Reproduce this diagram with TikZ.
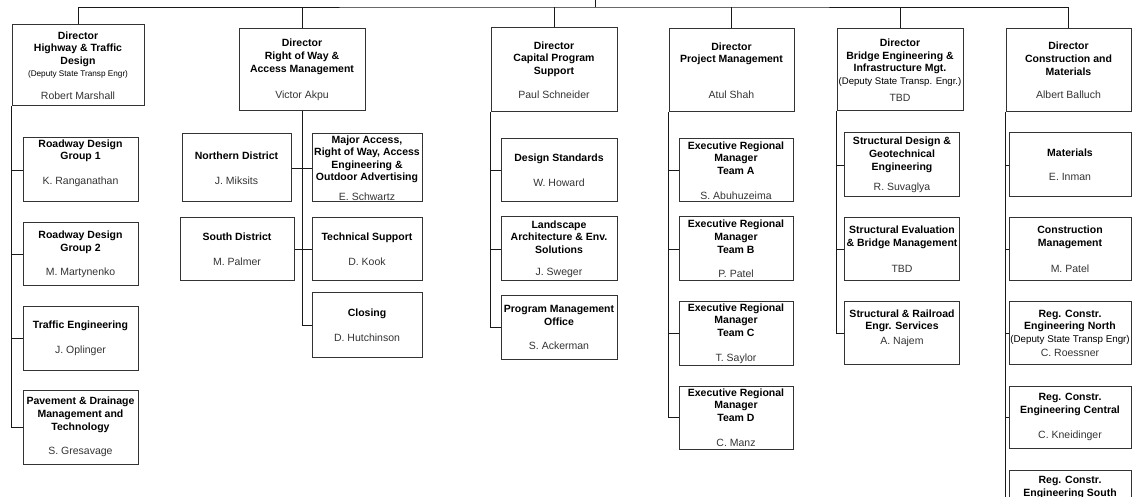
\documentclass[tikz,border=0pt]{standalone}
\usepackage{fontspec}
\setmainfont{Liberation Sans}
\usepackage{tikz}
\usetikzlibrary{calc}
\definecolor{namegray}{gray}{0.2}
\def\who#1{{\mdseries\color{namegray}#1}}
\def\dep#1#2{{\mdseries\fontsize{#1}{10}\selectfont #2}}

\begin{document}
\begin{tikzpicture}[x=1pt, y=-1pt,
    unit/.style 2 args={draw=black!80, line width=1pt, inner sep=0pt, align=center,
        minimum width=#1pt, minimum height=#2pt, font=\fontsize{10.5}{12.6}\selectfont\bfseries},
    link/.style={line width=0.8pt, color=black!90}]
			%%%%% START %%%%%
			\useasboundingbox (0,0) rectangle (1144,497);
			
			\node[unit={132}{81}] (hwy) at (78,65.5) {Director\\Highway \& Traffic\\Design\\\dep{8.2}{(Deputy State Transp Engr)}\\[10pt]\who{Robert Marshall}};
			\node[unit={126}{82}] (row) at (302,70) {Director\\Right of Way \&\\Access Management\\[14pt]\who{Victor Akpu}};
			\node[unit={126}{84}] (cps) at (554,70) {Director\\Capital Program\\Support\\[11pt]\who{Paul Schneider}};
			\node[unit={125}{83}] (pm) at (731.5,70.5) {Director\\Project Management\\[23pt]\who{Atul Shah}};
			\node[unit={126}{82}] (bim) at (900,70) {Director\\Bridge Engineering \&\\Infrastructure Mgt.\\\dep{9.6}{(Deputy State Transp. Engr.)}\\[4pt]\who{TBD}};
			\node[unit={125}{83}] (ccm) at (1068.5,70.5) {Director\\Construction and\\Materials\\[11pt]\who{Albert Balluch}};
			
			\node[unit={115}{64}] (rdg1) at (80.5,170) {Roadway Design\\Group 1\\[12pt]\who{K. Ranganathan}\\\strut};
			\node[unit={115}{63}] (rdg2) at (80.5,254.5) {Roadway Design\\Group 2\\[12pt]\who{M. Martynenko}};
			\node[unit={115}{63}] (tre) at (80.5,338.5) {Traffic Engineering\\[12pt]\who{J. Oplinger}};
			\node[unit={115}{74}] (pav) at (80.5,427) {Pavement \& Drainage\\Management and\\Technology\\[12pt]\who{S. Gresavage}};
			
			\node[unit={109}{68}] (nd) at (236.5,168) {Northern District\\[12pt]\who{J. Miksits}};
			\node[unit={114}{63}] (sd) at (237,249.5) {South District\\[12pt]\who{M. Palmer}};
			\node[unit={110}{68}] (maj) at (367,168) {Major Access,\\Right of Way, Access\\Engineering \&\\Outdoor Advertising\\[7pt]\who{E. Schwartz}};
			\node[unit={110}{63}] (tec) at (367,249.5) {Technical Support\\[12pt]\who{D. Kook}};
			\node[unit={110}{64}] (clo) at (367,325) {Closing\\[12pt]\who{D. Hutchinson}};
			
			\node[unit={116}{63}] (ds) at (559,170.5) {Design Standards\\[12pt]\who{W. Howard}};
			\node[unit={116}{64}] (la) at (559,249) {Landscape\\Architecture \& Env.\\Solutions\\[9pt]\who{J. Sweger}};
			\node[unit={116}{63}] (pmo) at (559,327.5) {Program Management\\Office\\[12pt]\who{S. Ackerman}};
			
			\node[unit={114}{63}] (ta) at (736,170.5) {Executive Regional\\Manager\\Team A\\[12pt]\who{S. Abuhuzeima}};
			\node[unit={114}{64}] (tb) at (736,249) {Executive Regional\\Manager\\Team B\\[12pt]\who{P. Patel}};
			\node[unit={114}{63}] (tc) at (736,333.5) {Executive Regional\\Manager\\Team C\\[12pt]\who{T. Saylor}};
			\node[unit={114}{63}] (td) at (736,417.5) {Executive Regional\\Manager\\Team D\\[12pt]\who{C. Manz}};
			
			\node[unit={115}{64}] (sdg) at (902,165) {Structural Design \&\\Geotechnical\\Engineering\\[8pt]\who{R. Suvaglya}};
			\node[unit={115}{63}] (seb) at (902,249.5) {Structural Evaluation\\\& Bridge Management\\[14pt]\who{TBD}};
			\node[unit={115}{62}] (srr) at (902,333) {Structural \& Railroad\\Engr. Services\\[2pt]\who{A. Najem}\\[-4pt]\strut};
			
			\node[unit={122}{64}] (mat) at (1070,165) {Materials\\[11pt]\who{E. Inman}};
			\node[unit={122}{63}] (con) at (1070,249.5) {Construction\\Management\\[14pt]\who{M. Patel}};
			\node[unit={122}{62}] (rn) at (1070,333) {Reg. Constr.\\Engineering North\\\dep{9.8}{(Deputy State Transp Engr)}\\[1pt]\who{C. Roessner}};
			\node[unit={122}{62}] (rc) at (1070,417) {Reg. Constr.\\Engineering Central\\[13pt]\who{C. Kneidinger}};
			\node[unit={122}{62}] (rs) at (1070,501) {Reg. Constr.\\Engineering South\\[13pt]\strut};
			
			\coordinate (up) at (595,0);
			\coordinate (bus) at (595,7);
			\draw[link] (up) -- (bus);
			\draw[link] (hwy.north) |- (bus) -| (ccm.north);
			\foreach \boss in {row,cps,pm,bim}
				\draw[link] (\boss.north) -- (\boss.north |- bus);
			
			\foreach \kid in {rdg1,rdg2,tre,pav}
				\draw[link] (hwy.south west) |- (\kid.west);
			\draw[link] (row.south) |- (clo.west);
			\draw[link] (nd.east) -- (maj.west);
			\draw[link] (sd.east) -- (tec.west);
			\foreach \kid in {ds,la,pmo}
				\draw[link] (cps.south west) |- (\kid.west);
			\foreach \kid in {ta,tb,tc,td}
				\draw[link] (pm.south west) |- (\kid.west);
			\foreach \kid in {sdg,seb,srr}
				\draw[link] (bim.south west) |- (\kid.west);
			\foreach \kid in {mat,con,rn,rc,rs}
				\draw[link] (ccm.south west) |- (\kid.west);
			
			%%%%% END %%%%%
\end{tikzpicture}
\end{document}
